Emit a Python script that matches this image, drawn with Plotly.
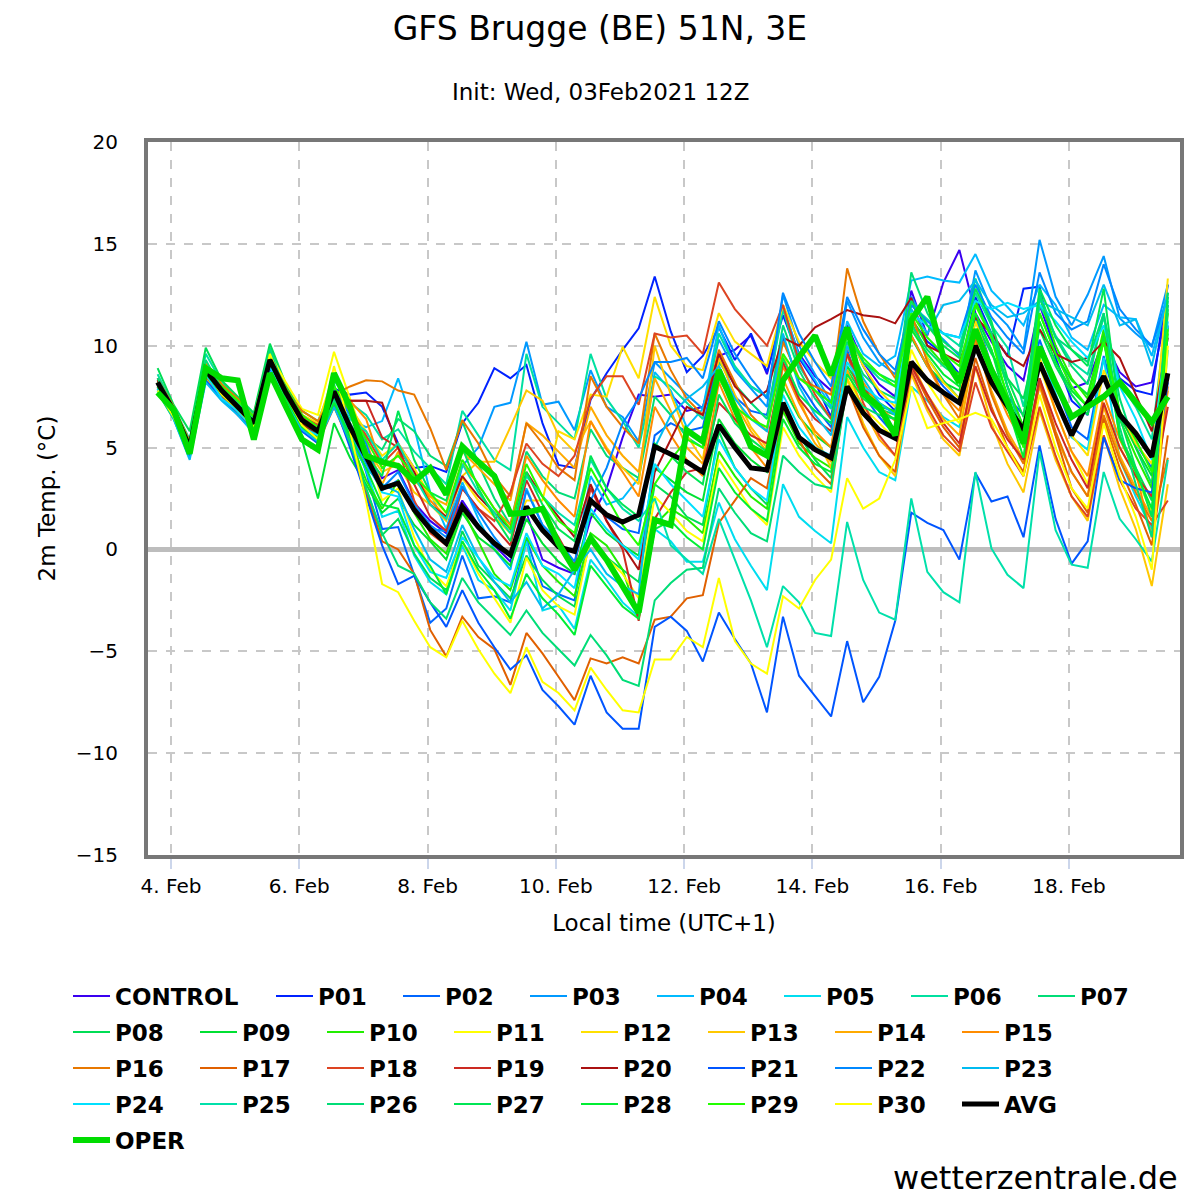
import pandas as pd
import plotly.graph_objects as go

# 6-hourly steps, local time (UTC+1), init 03Feb2021 12Z
times = pd.date_range("2021-02-03 19:00", periods=64, freq="6h")

control = [8.0, 6.7, 4.9, 8.7, 7.6, 7.2, 6.0, 9.4, 7.9, 6.5, 5.6, 7.6,
           6.2, 4.8, 3.5, 3.9, 2.3, 1.4, 0.8, 2.4, 1.2, 0.2, -0.6, 1.8,
           -0.5, -0.9, -1.2, 1.5, 3.0, 5.5, 7.6, 7.5, 7.6, 6.8, 7.0, 9.5,
           9.8, 10.5, 8.6, 11.8, 9.6, 8.5, 7.8, 11.0, 9.2, 8.1, 7.5, 12.7,
           10.5, 13.1, 14.7, 11.6, 10.2, 9.0, 8.3, 12.0, 9.8, 7.9, 8.2, 10.3, 8.7, 8.0, 8.2, 12.0]
p01 = [8.4, 6.9, 5.2, 8.9, 7.9, 7.3, 6.4, 9.6, 7.8, 6.4, 5.9, 7.9,
       7.6, 7.7, 7.0, 5.2, 4.0, 4.1, 3.8, 6.2, 7.2, 8.9, 8.4, 9.05,
       6.2, 4.15, 4.0, 7.35, 8.65, 9.8, 10.85, 13.4, 10.7, 8.7, 9.5, 10.9,
       9.3, 10.6, 8.7, 11.5, 9.4, 8.2, 6.5, 10.8, 9.0, 7.6, 6.8, 11.3,
       10.2, 9.6, 8.6, 12.4, 10.6, 9.5, 12.8, 12.9, 9.4, 7.3, 6.6, 10.6, 8.4, 7.8, 7.6, 13.0]
p02 = [8.1, 6.6, 4.8, 8.6, 7.7, 6.9, 6.1, 9.2, 7.5, 6.2, 5.7, 7.6,
       6.0, 3.8, 1.0, 1.1, -1.3, -3.6, -2.9, -0.3, -2.4, -2.3, -2.6, 0.5,
       -1.8, -2.2, -2.5, 2.5, 1.6, 1.0, 0.8, 5.6, 6.2, 5.8, 6.0, 9.6,
       7.5, 6.8, 6.6, 10.4, 8.2, 7.0, 6.0, 9.8, 7.6, 6.5, 5.6, 10.5,
       9.0, 8.0, 7.2, 11.5, 9.0, 7.5, 6.6, 10.3, 8.1, 6.0, 5.4, 9.5, 6.5, 5.2, 4.0, 11.0]
p03 = [8.3, 6.8, 5.1, 9.0, 7.8, 7.1, 6.3, 9.5, 7.8, 6.3, 5.5, 7.4,
       5.8, 4.2, 2.9, 3.4, 2.0, 1.0, 0.9, 4.1, 5.0, 7.0, 7.2, 10.2,
       7.1, 7.25, 5.85, 8.8, 7.0, 6.5, 5.3, 9.2, 8.4, 7.6, 6.9, 10.3,
       8.8, 7.9, 7.0, 12.5, 10.0, 8.6, 7.2, 12.2, 10.4, 9.2, 8.6, 12.4,
       11.0, 10.3, 9.5, 13.7, 11.8, 11.0, 9.8, 15.2, 12.4, 11.0, 12.5, 14.4, 11.35, 10.6, 9.95, 13.0]
p04 = [7.9, 6.5, 4.7, 8.4, 7.5, 6.8, 5.9, 9.0, 7.4, 6.1, 5.6, 7.6,
       6.4, 6.0, 6.3, 8.4, 6.0, 2.8, 1.0, 3.3, 1.5, 0.0, -1.0, 3.0,
       1.2, 0.4, -0.8, 3.6, 2.2, 2.5, 3.5, 8.7, 7.8, 6.0, 6.9, 11.0,
       8.9, 8.0, 7.5, 12.0, 9.5, 8.3, 7.0, 11.2, 9.6, 9.0, 9.5, 13.2,
       13.4, 13.2, 13.1, 14.5, 12.7, 11.9, 11.0, 13.0, 12.0, 10.4, 9.8, 12.0, 11.4, 11.3, 9.5, 12.6]
p05 = [8.0, 6.6, 4.6, 8.5, 7.6, 6.7, 5.8, 9.1, 7.4, 6.0, 5.4, 7.2,
       5.6, 3.9, 1.6, 1.9, -0.3, -1.6, -2.2, 0.2, -1.5, -2.0, -3.0, 0.4,
       -3.0, -2.75, -3.9, -0.5, -1.5, -2.6, -3.3, 1.0, 0.4, -0.6, -0.6, 2.3,
       0.5, -0.8, -2.0, 3.2, 1.6, 0.9, 0.3, 6.5, 5.0, 3.8, 3.4, 8.0,
       7.3, 6.5, 6.0, 10.1, 8.5, 7.0, 6.0, 9.8, 7.6, 5.5, 4.9, 9.4, 4.4, 2.6, 1.0, 9.8]
p06 = [8.6, 7.0, 5.4, 9.6, 8.2, 7.4, 6.6, 9.9, 8.0, 6.8, 6.3, 8.3,
       7.2, 6.6, 5.4, 5.9, 4.8, 4.0, 3.2, 6.8, 5.6, 4.4, 3.9, 9.6,
       7.0, 6.2, 5.4, 9.6, 7.4, 6.3, 5.0, 8.5, 8.0, 7.2, 6.4, 10.6,
       9.0, 8.0, 7.5, 11.8, 9.0, 7.8, 6.9, 10.8, 9.2, 8.4, 8.0, 12.0,
       11.3, 10.6, 10.0, 12.6, 11.0, 9.9, 7.0, 12.0, 10.5, 9.2, 8.6, 11.4, 8.2, 7.0, 5.4, 12.2]
p07 = [7.8, 6.6, 4.9, 8.7, 7.7, 6.9, 6.1, 9.3, 7.6, 6.3, 5.9, 7.9,
       6.6, 5.5, 4.9, 6.4, 5.8, 4.6, 4.1, 6.3, 4.2, 2.5, 1.2, 4.8,
       3.6, 2.8, 2.5, 5.9, 4.6, 4.0, 3.5, 7.5, 6.6, 5.5, 5.0, 9.2,
       8.1, 7.2, 6.4, 11.0, 8.8, 7.4, 6.4, 10.2, 8.6, 7.8, 7.4, 13.6,
       11.6, 10.2, 9.6, 13.3, 11.0, 8.0, 6.0, 12.6, 10.4, 9.0, 8.1, 11.6, 7.4, 5.0, 3.2, 12.4]
p08 = [8.9, 7.1, 5.8, 9.9, 8.3, 7.5, 6.7, 10.1, 8.1, 6.6, 6.1, 8.1,
       5.8, 3.0, 0.7, 1.5, -0.2, -1.4, -2.0, 0.9, -0.8, -1.6, -2.4, -0.3,
       -1.5, -2.3, -2.8, 0.5, -0.4, -1.0, -1.6, 3.2, 2.6, 1.6, 1.2, 5.8,
       4.0, 3.0, 2.2, 7.2, 5.6, 4.4, 3.5, 8.8, 7.6, 6.9, 6.6, 11.2,
       9.4, 8.3, 7.4, 11.2, 9.6, 8.4, 7.4, 10.8, 9.0, 7.6, 6.6, 10.3, 5.6, 4.0, 2.4, 10.9]
p09 = [7.7, 6.4, 4.5, 8.5, 7.5, 6.8, 6.0, 9.2, 7.2, 5.4, 2.5, 6.2,
       4.5, 3.2, 1.8, 2.5, 1.2, 0.4, -0.5, 1.8, 0.6, 0.0, -0.8, 1.5,
       0.3, -0.6, -1.2, 1.8, 0.8, 0.2, -0.3, 4.0, 3.4, 2.8, 2.4, 6.4,
       5.2, 4.4, 3.8, 8.0, 6.5, 5.6, 5.0, 9.0, 7.8, 7.0, 6.8, 10.4,
       9.0, 8.2, 7.8, 11.5, 9.8, 7.6, 5.4, 11.6, 9.6, 8.3, 7.6, 10.6, 6.6, 5.0, 3.6, 11.8]
p10 = [8.0, 6.7, 4.8, 8.6, 7.6, 7.0, 6.2, 9.2, 7.6, 6.2, 5.5, 7.4,
       5.4, 3.4, 2.0, 3.4, 1.8, 0.5, -0.2, 2.0, 0.4, -1.2, -2.0, 0.6,
       -0.8, -1.6, -2.3, 0.8, 0.2, -1.0, -3.4, 1.2, 2.0, 1.5, 0.8, 4.8,
       3.6, 2.6, 2.0, 6.8, 5.2, 4.5, 4.0, 9.6, 8.0, 7.2, 6.7, 11.4,
       10.0, 9.1, 8.6, 12.2, 10.4, 8.0, 6.0, 12.4, 10.0, 8.4, 7.4, 10.8, 6.4, 4.6, 3.0, 11.6]
p11 = [8.1, 6.7, 5.0, 9.0, 8.0, 7.3, 6.5, 9.6, 8.2, 6.9, 6.6, 9.7,
       7.4, 5.2, 2.4, 3.0, 0.6, -1.0, -1.8, 0.4, -1.2, -2.4, -3.6, -0.4,
       -2.0, -2.8, -3.2, 0.6, -0.4, -1.2, -2.4, 2.6, 1.8, 0.9, 0.4, 4.4,
       3.2, 2.0, 1.2, 6.0, 4.6, 3.6, 2.8, 8.4, 7.0, 6.2, 5.4, 9.8,
       8.2, 7.0, 6.2, 10.0, 8.4, 7.0, 5.6, 9.0, 6.8, 4.8, 3.2, 7.2, 5.0, 3.6, 1.8, 8.6]
p12 = [8.2, 6.9, 5.1, 9.2, 8.1, 7.2, 6.4, 9.4, 7.9, 6.6, 6.2, 8.6,
       7.0, 5.8, 4.6, 5.2, 4.0, 2.6, 1.8, 3.5, 2.4, 1.6, 0.8, 2.4,
       2.4, 5.8, 5.4, 7.6, 7.5, 9.95, 8.4, 12.4, 10.0, 9.0, 8.8, 11.6,
       10.2, 9.6, 9.0, 12.0, 10.2, 9.2, 8.4, 10.8, 9.0, 7.8, 7.0, 11.0,
       9.4, 8.2, 7.4, 11.2, 9.0, 7.2, 5.8, 9.4, 7.4, 5.6, 4.6, 8.8, 6.8, 5.2, 4.2, 13.3]
p13 = [7.9, 6.6, 4.7, 8.4, 7.6, 6.8, 6.0, 9.0, 7.4, 6.0, 5.4, 7.0,
       5.9, 5.0, 3.8, 4.2, 2.8, 2.2, 1.4, 3.6, 4.3, 4.3, 6.0, 7.8,
       7.3, 5.6, 4.8, 6.3, 5.0, 4.0, 3.2, 10.0, 7.6, 5.6, 4.4, 9.4,
       7.6, 6.0, 5.0, 9.6, 7.4, 5.6, 4.0, 8.4, 6.2, 4.6, 3.6, 8.6,
       6.8, 5.4, 4.6, 9.0, 6.2, 4.2, 2.8, 6.8, 4.4, 2.6, 1.4, 5.6, 3.0, 1.0, -1.8, 3.2]
p14 = [8.3, 6.9, 5.0, 8.8, 7.9, 7.1, 6.3, 9.3, 7.7, 6.4, 5.9, 7.8,
       6.7, 5.3, 3.2, 4.8, 3.4, 2.6, 2.2, 4.8, 4.0, 3.2, 2.4, 6.2,
       5.6, 4.8, 4.0, 7.0, 5.6, 4.6, 3.8, 8.4, 6.8, 5.0, 4.2, 9.0,
       7.2, 5.8, 4.8, 8.4, 6.6, 5.2, 4.3, 8.8, 6.9, 5.4, 4.6, 9.2,
       7.6, 6.4, 5.6, 10.2, 7.8, 5.8, 4.4, 8.0, 5.6, 3.8, 2.6, 7.0, 4.6, 3.0, 1.6, 7.8]
p15 = [8.0, 6.8, 5.2, 8.7, 7.7, 7.1, 6.4, 9.2, 7.9, 6.6, 6.0, 7.7,
       7.3, 6.4, 4.0, 4.6, 3.8, 2.4, 1.6, 4.2, 3.2, 2.0, 1.2, 4.6,
       3.4, 2.4, 1.6, 6.3, 4.9, 3.8, 2.6, 7.0, 5.6, 4.4, 3.6, 8.2,
       6.4, 5.0, 4.0, 9.0, 7.2, 5.8, 5.0, 10.0, 8.2, 7.0, 6.3, 10.5,
       9.0, 7.6, 6.8, 10.8, 8.4, 6.6, 5.2, 9.2, 6.8, 4.8, 3.6, 7.6, 5.4, 3.8, 0.6, 8.0]
p16 = [8.4, 7.0, 5.3, 9.1, 8.1, 7.4, 6.5, 9.0, 7.8, 6.8, 6.3, 7.6,
       8.0, 8.3, 8.25, 7.8, 7.6, 5.95, 3.9, 6.35, 5.2, 3.6, 2.6, 6.2,
       5.2, 4.0, 3.4, 8.5, 7.0, 6.0, 5.2, 10.6, 8.8, 7.4, 6.6, 9.8,
       8.2, 6.6, 5.8, 10.2, 8.4, 8.0, 7.6, 13.8, 11.2, 9.6, 8.4, 11.6,
       9.2, 7.6, 6.4, 10.4, 7.6, 5.6, 4.2, 8.4, 5.8, 3.8, 2.6, 6.6, 4.4, 2.8, 1.4, 4.5]
p17 = [8.1, 6.8, 5.0, 8.5, 7.6, 6.9, 6.1, 9.2, 7.6, 6.0, 5.2, 7.0,
       5.2, 2.8, 0.4, 0.0, -1.2, -3.95, -5.25, -3.3, -4.3, -4.9, -6.65, -4.1,
       -5.1, -6.25, -7.4, -5.35, -5.6, -5.3, -5.6, -3.45, -3.3, -2.4, -2.25, 1.3,
       2.4, 3.5, 3.0, 7.0, 5.4, 4.0, 3.2, 8.0, 6.0, 4.6, 3.8, 9.0,
       7.4, 6.0, 5.0, 9.4, 7.0, 5.0, 3.8, 8.2, 5.6, 3.0, 1.8, 6.4, 4.0, 2.2, 0.2, 5.6]
p18 = [8.0, 6.6, 4.9, 8.6, 7.5, 6.6, 5.9, 9.4, 7.8, 6.5, 6.1, 7.8,
       6.8, 5.6, 4.2, 5.0, 2.4, 0.8, 0.2, 3.0, 2.0, 1.4, 2.8, 5.2,
       4.2, 3.6, 4.6, 7.4, 8.5, 8.5, 7.1, 10.6, 10.4, 10.5, 9.6, 13.1,
       11.8, 10.9, 10.0, 12.0, 9.2, 7.6, 6.4, 9.6, 7.2, 5.6, 4.6, 8.8,
       7.0, 5.6, 4.8, 8.2, 6.0, 4.8, 3.6, 7.0, 4.6, 2.6, 1.6, 5.6, 3.4, 2.0, 1.2, 2.4]
p19 = [8.2, 6.7, 4.9, 8.9, 7.7, 7.0, 6.2, 9.5, 7.9, 6.6, 5.9, 7.7,
       7.3, 7.3, 5.5, 5.0, 3.2, 1.6, 0.9, 3.0, 2.0, 1.1, 0.2, 3.4,
       1.8, 0.6, -0.8, 3.0, 1.4, 0.0, -3.5, 1.5, 2.8, 3.8, 4.0, 7.2,
       6.4, 5.6, 5.2, 9.2, 7.4, 6.4, 5.8, 9.6, 8.0, 6.8, 5.8, 9.0,
       7.6, 6.2, 5.2, 9.0, 6.8, 5.4, 4.4, 8.4, 6.2, 4.4, 3.0, 7.2, 5.0, 3.6, 2.6, 7.0]
p20 = [8.3, 6.9, 5.2, 8.8, 7.6, 7.0, 6.3, 9.2, 7.5, 6.2, 5.6, 7.4,
       7.3, 7.3, 7.2, 5.0, 3.8, 2.2, 1.6, 3.6, 2.6, 1.8, 1.0, 3.8,
       2.6, 1.6, 0.6, 3.2, 1.4, 0.2, -1.0, 3.8, 5.4, 7.0, 6.6, 9.6,
       8.0, 7.2, 7.8, 10.4, 10.0, 10.9, 11.3, 11.75, 11.5, 11.4, 11.1, 12.35,
       10.0, 9.6, 9.2, 11.4, 10.6, 9.5, 9.0, 10.8, 9.6, 9.2, 9.4, 10.2, 9.4, 7.6, 5.8, 10.4]
p21 = [7.9, 6.5, 4.6, 8.3, 7.4, 6.6, 5.8, 8.9, 7.2, 5.8, 5.2, 7.2,
       5.0, 2.6, 0.2, -1.7, -1.3, -2.6, -3.8, -2.0, -3.6, -4.8, -5.9, -5.2,
       -6.9, -7.7, -8.6, -6.2, -8.0, -8.8, -8.8, -3.8, -3.3, -4.0, -5.5, -3.1,
       -4.4, -5.6, -8.0, -3.3, -6.2, -7.2, -8.2, -4.5, -7.5, -6.25, -3.5, 1.8,
       1.3, 0.95, -0.5, 3.75, 2.35, 2.6, 0.6, 5.1, 1.5, -0.7, 0.4, 5.5, 3.4, 3.0, 2.8, 8.2]
p22 = [8.1, 6.7, 4.9, 8.7, 7.8, 7.0, 6.1, 9.3, 7.7, 6.3, 5.8, 7.8,
       6.6, 5.2, 3.0, 3.8, 2.2, 1.2, 0.6, 3.1, 1.8, 0.6, -0.4, 2.9,
       1.2, 0.4, -0.6, 2.4, 4.0, 6.2, 7.4, 9.2, 9.2, 9.4, 8.4, 11.2,
       9.6, 8.4, 7.4, 12.6, 10.6, 9.2, 8.0, 12.4, 10.8, 9.6, 8.8, 12.0,
       11.2, 10.6, 10.4, 13.0, 11.4, 10.4, 9.6, 13.6, 11.6, 10.8, 11.2, 14.0, 11.8, 10.8, 10.0, 12.4]
p23 = [7.8, 6.4, 4.4, 8.2, 7.3, 6.6, 5.7, 8.7, 7.2, 5.9, 5.3, 7.0,
       5.3, 4.0, 3.2, 2.8, 1.0, -0.5, -1.1, 1.2, -0.4, -1.6, -2.6, -1.6,
       -2.9, -2.2, -1.0, 0.0, -1.2, -1.8, -2.2, 5.0, 6.6, 7.4, 8.0, 9.0,
       7.4, 6.4, 5.8, 10.6, 8.0, 6.6, 5.6, 10.0, 8.4, 7.2, 6.6, 11.8,
       10.6, 12.0, 12.2, 13.2, 12.0, 11.4, 11.6, 12.2, 11.8, 11.4, 11.0, 13.0, 11.0, 11.3, 9.0, 12.6]
p24 = [7.9, 6.5, 4.7, 8.6, 7.4, 6.8, 5.9, 9.0, 7.3, 6.0, 5.6, 7.3,
       5.8, 4.5, 2.8, 2.6, 0.2, -1.1, -1.4, 0.6, -0.4, -1.4, -1.8, 0.8,
       -0.8, -1.2, -1.9, 2.0, 1.0, 0.2, -0.5, 4.2, 3.2, 2.4, 1.6, 5.4,
       4.0, 3.0, 2.4, 7.6, 6.0, 5.0, 4.6, 9.2, 8.0, 7.4, 7.2, 11.6,
       11.0, 10.6, 10.4, 12.2, 11.8, 12.1, 11.8, 12.0, 11.2, 10.2, 9.4, 11.0, 8.0, 6.4, 4.4, 11.2]
p25 = [8.0, 6.8, 5.1, 8.9, 7.8, 7.1, 6.4, 9.4, 7.7, 6.4, 5.7, 7.5,
       6.4, 5.8, 4.4, 5.2, 3.6, 2.2, 1.5, 4.2, 2.8, 1.8, 0.8, 3.6,
       2.6, 1.8, 1.2, 4.4, 3.0, 2.0, 1.4, 2.5, 0.2, -0.5, -1.2, 1.5,
       -0.5, -2.5, -4.8, -1.8, -2.6, -4.1, -4.25, 1.35, -1.5, -3.1, -3.45, 2.5,
       -1.1, -2.1, -2.6, 3.8, 0.05, -1.25, -1.9, 4.8, 0.95, -0.75, -0.9, 3.8, 1.5, 0.5, -0.6, 4.4]
p26 = [8.4, 6.9, 5.0, 9.3, 7.9, 7.2, 6.3, 9.8, 7.7, 6.3, 5.7, 7.4,
       5.2, 3.0, 0.8, -0.8, -1.2, -2.6, -3.4, -1.4, -2.6, -3.4, -4.2, -3.0,
       -4.1, -4.9, -5.7, -4.2, -5.2, -6.4, -6.7, -2.5, -1.65, -1.0, -0.9, 3.0,
       1.8, 0.8, 0.4, 4.6, 3.8, 3.2, 3.0, 8.0, 7.0, 6.6, 6.4, 11.0,
       9.8, 9.0, 8.4, 12.0, 10.6, 8.0, 5.5, 12.4, 10.4, 9.8, 9.2, 11.6, 6.0, 3.2, 0.6, 12.0]
p27 = [7.7, 6.5, 4.8, 8.6, 7.8, 7.0, 6.2, 9.2, 7.6, 6.3, 5.8, 7.6,
       6.2, 4.6, 3.6, 6.8, 4.4, 2.8, 2.4, 5.0, 3.0, 1.6, 0.4, 3.8,
       2.2, 1.0, 0.4, 4.6, 3.0, 2.2, 1.6, 5.2, 4.6, 3.8, 3.2, 7.6,
       6.2, 5.4, 4.8, 9.4, 7.6, 6.8, 6.2, 10.6, 9.2, 8.6, 8.2, 12.2,
       11.0, 10.0, 9.4, 12.8, 11.2, 8.4, 6.5, 12.8, 11.0, 9.8, 9.0, 12.8, 6.5, 4.0, 1.6, 12.6]
p28 = [8.2, 6.8, 5.0, 8.7, 7.6, 6.9, 6.1, 9.3, 7.4, 6.0, 5.4, 7.2,
       5.6, 4.0, 2.2, 2.0, 0.2, -0.8, -2.2, 0.4, -1.0, -2.0, -3.4, -1.2,
       -2.4, -3.2, -4.2, -0.8, -1.8, -2.8, -3.4, 1.0, 1.4, 0.6, 0.0, 4.0,
       2.8, 2.0, 1.4, 6.4, 5.0, 4.2, 3.8, 8.6, 7.4, 6.8, 6.4, 10.8,
       9.6, 8.6, 8.0, 11.6, 9.8, 7.0, 4.5, 11.2, 9.2, 7.8, 7.0, 10.4, 5.5, 3.8, 2.0, 10.6]
p29 = [8.0, 6.9, 5.2, 8.8, 8.0, 7.3, 6.5, 9.4, 7.9, 6.6, 6.0, 8.0,
       6.8, 5.4, 4.0, 4.6, 3.6, 2.8, 1.8, 4.4, 3.2, 2.0, 1.0, 4.2,
       2.6, 1.4, 0.8, 4.0, 2.6, 1.2, 0.2, 3.2, 4.4, 5.4, 5.0, 8.4,
       7.0, 6.4, 6.0, 9.6, 8.4, 7.8, 7.2, 10.6, 9.4, 8.6, 8.0, 11.6,
       10.4, 9.6, 9.0, 12.0, 10.4, 7.4, 5.0, 11.6, 9.6, 8.0, 7.0, 10.2, 6.8, 5.4, 3.8, 10.8]
p30 = [7.8, 6.5, 4.9, 8.8, 7.6, 6.9, 6.0, 9.6, 7.6, 6.1, 5.4, 9.0,
       5.8, 2.4, -1.7, -2.1, -3.5, -4.8, -5.3, -3.5, -4.9, -6.1, -7.05, -4.8,
       -6.5, -7.05, -7.9, -5.8, -6.9, -7.9, -8.0, -5.4, -5.4, -4.3, -4.8, -1.4,
       -4.5, -5.6, -6.1, -2.3, -2.9, -1.5, -0.5, 3.5, 2.0, 2.5, 4.4, 8.0,
       5.95, 6.2, 6.4, 6.7, 6.4, 5.0, 3.6, 7.6, 5.0, 3.0, 2.0, 6.2, 3.6, 1.6, -1.0, 10.0]

avg = [8.2, 6.8, 5.0, 8.8, 7.8, 7.0, 6.2, 9.3, 7.7, 6.35, 5.8, 7.75,
       6.0, 4.55, 3.0, 3.25, 1.95, 1.0, 0.3, 2.1, 1.1, 0.3, -0.27, 2.1,
       0.95, 0.13, -0.1, 2.4, 1.7, 1.35, 1.7, 5.05, 4.7, 4.3, 3.8, 6.1,
       5.0, 4.0, 3.9, 7.2, 5.5, 4.9, 4.5, 8.0, 6.7, 5.85, 5.45, 9.2,
       8.3, 7.7, 7.2, 10.0, 8.2, 7.0, 5.85, 9.15, 7.35, 5.6, 7.2, 8.5, 6.6, 5.7, 4.55, 8.65]
oper = [7.7, 6.85, 4.7, 8.9, 8.4, 8.3, 5.4, 8.65, 7.0, 5.4, 4.9, 8.65,
        7.0, 4.6, 4.3, 4.1, 3.35, 4.0, 2.7, 5.05, 4.3, 3.6, 1.75, 1.8,
        2.0, 0.3, -1.0, 0.55, -0.5, -1.8, -3.1, 1.45, 1.2, 5.85, 5.3, 8.8,
        6.85, 5.05, 4.6, 8.3, 9.45, 10.5, 8.55, 10.9, 7.65, 7.0, 5.6, 11.25,
        12.4, 9.45, 8.2, 10.8, 8.8, 7.2, 5.2, 9.95, 8.15, 6.5, 7.0, 7.5, 8.2, 7.2, 6.25, 7.5]

members = [
    ("CONTROL", control, "#3a00f0"), ("P01", p01, "#0022ff"), ("P02", p02, "#0066ff"),
    ("P03", p03, "#0099ff"), ("P04", p04, "#00bbff"), ("P05", p05, "#00ddf0"),
    ("P06", p06, "#00e0a0"), ("P07", p07, "#00dd77"), ("P08", p08, "#00dd55"),
    ("P09", p09, "#00e033"), ("P10", p10, "#22ee00"), ("P11", p11, "#ffff00"),
    ("P12", p12, "#ffe000"), ("P13", p13, "#ffc800"), ("P14", p14, "#ffaa00"),
    ("P15", p15, "#ff8c00"), ("P16", p16, "#e87800"), ("P17", p17, "#e06000"),
    ("P18", p18, "#dd4422"), ("P19", p19, "#cc2a22"), ("P20", p20, "#aa1111"),
    ("P21", p21, "#0055ff"), ("P22", p22, "#0088ff"), ("P23", p23, "#00bbf0"),
    ("P24", p24, "#00e0ff"), ("P25", p25, "#00e0aa"), ("P26", p26, "#00dd77"),
    ("P27", p27, "#00e655"), ("P28", p28, "#00ee33"), ("P29", p29, "#22ff00"),
    ("P30", p30, "#ffff00"),
]

tick_days = ["2021-02-04", "2021-02-06", "2021-02-08", "2021-02-10",
             "2021-02-12", "2021-02-14", "2021-02-16", "2021-02-18"]
tick_text = ["4. Feb", "6. Feb", "8. Feb", "10. Feb", "12. Feb", "14. Feb", "16. Feb", "18. Feb"]

legend_ids = ["legend", "legend2", "legend3", "legend4", "legend5"]

fig = go.Figure()
for i, (name, vals, col) in enumerate(members):
    fig.add_trace(go.Scatter(
        x=times, y=vals, name=name, mode="lines",
        line=dict(color=col, width=2),
        legend=legend_ids[i // 8],
        legendwidth=151 if name == "CONTROL" else 75,
    ))
fig.add_trace(go.Scatter(x=times, y=avg, name="AVG", mode="lines",
                         line=dict(color="black", width=5),
                         legend="legend4", legendwidth=75))
fig.add_trace(go.Scatter(x=times, y=oper, name="OPER", mode="lines",
                         line=dict(color="#00dd00", width=6),
                         legend="legend5", legendwidth=75))

L, R, T, B = 148, 20, 142, 345
plot_w = 1200 - L - R
plot_h = 1200 - T - B
leg_font = dict(family="DejaVu Sans", size=23, color="black", weight="bold")
row_y = [996, 1032, 1068, 1104, 1140]
legends = {}
for j, lid in enumerate(legend_ids):
    legends[lid] = dict(orientation="h", x=(68 - L) / plot_w, xanchor="left",
                        y=(1200 - B - row_y[j]) / plot_h, yanchor="middle",
                        itemwidth=37, font=leg_font,
                        bgcolor="rgba(0,0,0,0)", traceorder="normal")

fig.update_layout(
    width=1200, height=1200,
    paper_bgcolor="white", plot_bgcolor="white",
    margin=dict(l=L, r=R, t=T, b=B, autoexpand=False),
    font=dict(family="DejaVu Sans", size=20, color="black"),
    title=dict(text="GFS Brugge (BE) 51N, 3E", x=0.5, xref="container", xanchor="center",
               y=1 - 28 / 1200, yref="container", yanchor="middle",
               font=dict(family="DejaVu Sans", size=33, color="black")),
    showlegend=True,
    **legends,
)
fig.update_xaxes(
    type="date", range=["2021-02-03 15:24", "2021-02-19 17:33"],
    tickvals=tick_days, ticktext=tick_text,
    showgrid=True, gridcolor="#c8c8c8", griddash="dash", gridwidth=2,
    showline=True, mirror=True, linecolor="#777777", linewidth=4,
    ticks="outside", ticklen=10, tickwidth=2, tickcolor="#ccd6eb",
    tickfont=dict(size=20),
    title=dict(text="Local time (UTC+1)", font=dict(size=23), standoff=19),
    zeroline=False,
)
fig.update_yaxes(
    range=[-15, 20], tickvals=[-15, -10, -5, 0, 5, 10, 15, 20],
    showgrid=True, gridcolor="#c8c8c8", griddash="dash", gridwidth=2,
    showline=True, mirror=True, linecolor="#777777", linewidth=4,
    zeroline=True, zerolinecolor="#bdbdbd", zerolinewidth=5,
    ticks="", ticklabelstandoff=22, tickfont=dict(size=20),
    title=dict(text="2m Temp. (°C)", font=dict(size=23), standoff=15),
)
fig.add_annotation(text="Init: Wed, 03Feb2021 12Z", xref="paper", yref="paper",
                   x=(600 - L) / plot_w, y=(1200 - B - 92) / plot_h,
                   xanchor="center", yanchor="middle", showarrow=False,
                   font=dict(family="DejaVu Sans", size=23, color="black"))
fig.add_annotation(text="wetterzentrale.de", xref="paper", yref="paper",
                   x=1.0, y=(1200 - B - 1178) / plot_h,
                   xanchor="right", yanchor="middle", showarrow=False,
                   font=dict(family="DejaVu Sans", size=32, color="black"))

# page has a default 8px body margin; drop it so the figure sits at the corner
fig.write_html("out.html", config={"displayModeBar": False},
               post_script="document.body.style.margin='0';")
